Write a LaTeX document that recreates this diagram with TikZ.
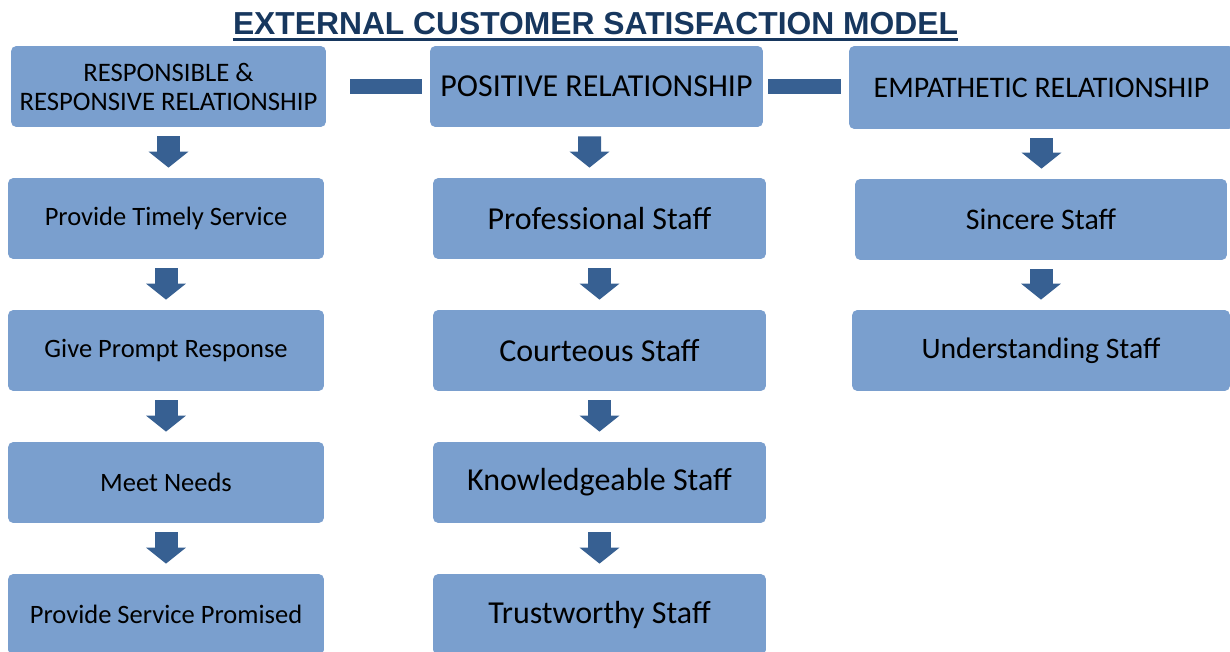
\documentclass[tikz,border=0pt]{standalone}
\usepackage{fontspec}
\setmainfont{Carlito}
\newfontfamily\titlefont{Liberation Sans}
\usetikzlibrary{arrows.meta}
\definecolor{boxblue}{RGB}{122,159,206}
\definecolor{arrblue}{RGB}{55,96,146}
\definecolor{titleblue}{RGB}{23,55,94}
\tikzset{box/.style={fill=boxblue, rounded corners=3pt, minimum height=1.62cm, align=center, inner sep=0pt},
  blk/.style={arrblue, line width=0.46cm, -{Triangle[length=0.32cm, width=0.78cm]}, shorten <=0.18cm, shorten >=0.2cm},
  bar/.style={arrblue, line width=0.32cm}}

\begin{document}
\begin{tikzpicture}[x=0.02cm, y=-0.02cm]
      \useasboundingbox (0,0) rectangle (1230,652);
      \clip (0,0) rectangle (1230,652);

      \node [anchor=base, inner sep=0pt, text=titleblue] (title) at (595.5, 35) {\titlefont\fontsize{18.1pt}{21pt}\bfseries EXTERNAL CUSTOMER SATISFACTION MODEL};
      \draw [titleblue, line width=1.4pt] ([yshift=-2.6pt]title.base west) -- ([yshift=-2.6pt]title.base east);

      % left column
      \node [box, minimum width=6.3cm, font=\fontsize{15.2pt}{16.5pt}\selectfont] (resp) at (168.5, 86.5) {RESPONSIBLE \&\\RESPONSIVE RELATIONSHIP};
      \node [box, minimum width=6.32cm, font=\fontsize{15.1pt}{17pt}\selectfont] (timely) at (166, 218.5) {Provide Timely Service};
      \node [box, minimum width=6.32cm, font=\fontsize{15.1pt}{17pt}\selectfont] (prompt) at (166, 350.5) {Give Prompt Response};
      \node [box, minimum width=6.32cm, font=\fontsize{15.1pt}{17pt}\selectfont] (needs) at (166, 482.5) {Meet Needs};
      \node [box, minimum width=6.32cm, font=\fontsize{15.1pt}{17pt}\selectfont] (promised) at (166, 614.5) {Provide Service Promised};

      % middle column
      \node [box, minimum width=6.66cm, font=\fontsize{18.2pt}{21pt}\selectfont] (pos) at (596.5, 86.5) {POSITIVE RELATIONSHIP};
      \node [box, minimum width=6.66cm, font=\fontsize{18.2pt}{21pt}\selectfont] (prof) at (599.5, 218.5) {Professional Staff};
      \node [box, minimum width=6.66cm, font=\fontsize{18.2pt}{21pt}\selectfont] (court) at (599.5, 350.5) {Courteous Staff};
      \node [box, minimum width=6.66cm, font=\fontsize{18.2pt}{21pt}\selectfont] (know) at (599.5, 482.5) {Knowledgeable Staff};
      \node [box, minimum width=6.66cm, font=\fontsize{18.2pt}{21pt}\selectfont] (trust) at (599.5, 614.5) {Trustworthy Staff};

      % right column
      \node [box, minimum width=7.7cm, minimum height=1.66cm, font=\fontsize{17pt}{20pt}\selectfont] (emp) at (1041.5, 87.5) {EMPATHETIC RELATIONSHIP};
      \node [box, minimum width=7.44cm, font=\fontsize{17pt}{20pt}\selectfont] (sincere) at (1041, 219.5) {Sincere Staff};
      \node [box, minimum width=7.56cm, font=\fontsize{16.9pt}{20pt}\selectfont] (under) at (1041, 350.5) {Understanding Staff};

      \draw [bar, shorten <=0.48cm, shorten >=0.16cm] (resp.east) -- (resp.east -| pos.west);
      \draw [bar, shorten <=0.1cm, shorten >=0.16cm] (pos.east) -- (pos.east -| emp.west);

      \draw [blk] (resp.south) -- (resp.south |- timely.north);
      \draw [blk] (timely) -- (prompt);
      \draw [blk] (prompt) -- (needs);
      \draw [blk] (needs) -- (promised);
      \draw [blk] ([xshift=-0.14cm]pos.south) -- ([xshift=-0.2cm]prof.north);
      \draw [blk] (prof) -- (court);
      \draw [blk] (court) -- (know);
      \draw [blk] (know) -- (trust);
      \draw [blk] (emp.south) -- (emp.south |- sincere.north);
      \draw [blk] (sincere) -- (under);
    \end{tikzpicture}
\end{document}
